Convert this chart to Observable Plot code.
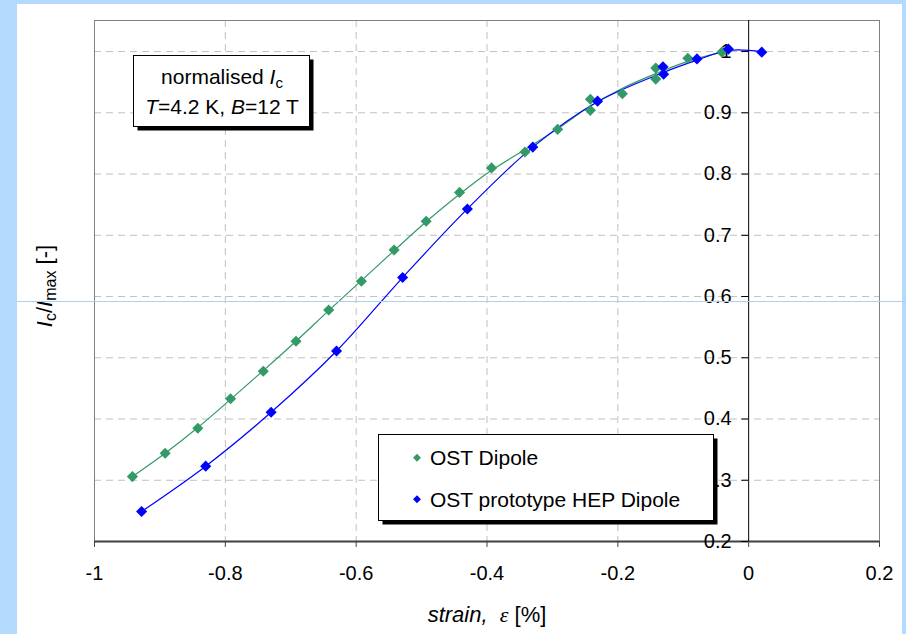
<!DOCTYPE html>
<html><head><meta charset="utf-8">
<script src="https://cdn.jsdelivr.net/npm/d3@7"></script>
<script src="https://cdn.jsdelivr.net/npm/@observablehq/plot@0.6"></script>
<style>
html,body{margin:0;padding:0;background:#b3d9fd;width:906px;height:634px;overflow:hidden}
#panel{position:absolute;left:17px;top:4px;width:885px;height:630px;background:#fff}
#chart{position:absolute;left:0;top:0}
#streak{position:absolute;left:17px;top:301px;width:889px;height:1px;background:#a9d0f5}
</style></head><body>
<div id="panel"></div><div id="chart"></div><div id="streak"></div>
<script>
// OST Dipole (measured points)
const greenX = [-0.942,-0.892,-0.842,-0.792,-0.742,-0.692,-0.642,-0.592,-0.542,-0.493,-0.442,-0.393,-0.342,-0.292,-0.242,-0.242,-0.193,-0.142,-0.142,-0.093,-0.041];
const greenY = [0.306,0.344,0.385,0.433,0.478,0.527,0.578,0.625,0.676,0.723,0.770,0.810,0.836,0.873,0.922,0.904,0.931,0.973,0.955,0.989,0.999];
// OST prototype HEP Dipole (measured points)
const blueX = [-0.928,-0.830,-0.730,-0.630,-0.529,-0.430,-0.330,-0.231,-0.131,-0.130,-0.079,-0.031,0.020];
const blueY = [0.249,0.323,0.411,0.511,0.631,0.743,0.844,0.919,0.975,0.963,0.988,1.004,0.999];
// smoothed trend lines
const greenFitX = [-0.942,-0.892,-0.842,-0.792,-0.742,-0.692,-0.642,-0.592,-0.542,-0.493,-0.442,-0.393,-0.342,-0.292,-0.242,-0.193,-0.142,-0.093,-0.041];
const greenFitY = [0.306,0.344,0.386,0.432,0.479,0.527,0.577,0.626,0.675,0.722,0.767,0.806,0.840,0.874,0.911,0.940,0.964,0.984,0.999];
const blueFitX = [-0.928,-0.830,-0.730,-0.630,-0.529,-0.430,-0.330,-0.231,-0.130,-0.079,-0.031,0.020];
const blueFitY = [0.249,0.323,0.411,0.511,0.631,0.743,0.844,0.918,0.966,0.986,1.002,1.000];

const xTicks = [-1,-0.8,-0.6,-0.4,-0.2,0,0.2];
const xTickLabels = ["-1","-0.8","-0.6","-0.4","-0.2","0","0.2"];
const xGrid = [-0.8,-0.6,-0.4,-0.2];
const yTicks = [0.2,0.3,0.4,0.5,0.6,0.7,0.8,0.9,1.0];
const yTickLabels = ["0.2","0.3","0.4","0.5","0.6","0.7","0.8","0.9","1"];
const yGrid = [0.3,0.4,0.5,0.6,0.7,0.8,0.9,1.0];
const seriesNames = ["OST Dipole","OST prototype HEP Dipole"];
const seriesColors = ["#339966","#0000ff"];

const zip = (xs, ys) => xs.map((x,i) => ({x, y: ys[i]}));
const green = zip(greenX, greenY), blue = zip(blueX, blueY);
const greenFit = zip(greenFitX, greenFitY), blueFit = zip(blueFitX, blueFitY);
const yTickData = yTicks.map((v,i) => ({v, label: yTickLabels[i]}));
const FONT = "Liberation Sans, Arial, sans-serif";

const chart = Plot.plot({
  width: 906, height: 634,
  marginLeft: 94, marginRight: 27, marginTop: 20, marginBottom: 93,
  style: {background: "transparent", fontFamily: FONT, color: "#000"},
  x: {domain: [-1, 0.2]},
  y: {domain: [0.2, 1.0507], axis: null},
  marks: [
    Plot.ruleX(xGrid, {stroke: "#c0c0c0", strokeDasharray: "7,5"}),
    Plot.ruleY(yGrid, {stroke: "#c0c0c0", strokeDasharray: "7,5"}),
    Plot.frame({stroke: "#808080"}),
    Plot.ruleY([0.2], {stroke: "#404040", strokeWidth: 2}),
    Plot.ruleX([0], {stroke: "#000", strokeWidth: 1}),
    Plot.ruleY(yTickData, {y: "v", x1: 0, x2: 0, insetLeft: -7, stroke: "#000"}),
    Plot.text(yTickData, {x: 0, y: "v", text: "label", dx: -17, textAnchor: "end", fontSize: 20, fill: "#000"}),
    Plot.axisX({ticks: xTicks, tickFormat: (d, i) => xTickLabels[i], tickSize: 6, tickPadding: 18, fontSize: 20, label: null, stroke: "#404040"}),
    Plot.line(greenFit, {x: "x", y: "y", stroke: seriesColors[0], strokeWidth: 1.2, curve: "catmull-rom"}),
    Plot.line(blueFit, {x: "x", y: "y", stroke: seriesColors[1], strokeWidth: 1.2, curve: "catmull-rom"}),
    Plot.dot(green, {x: "x", y: "y", symbol: "diamond2", r: 5, fill: seriesColors[0], stroke: null}),
    Plot.dot(blue, {x: "x", y: "y", symbol: "diamond2", r: 5, fill: seriesColors[1], stroke: null})
  ]
});
document.getElementById("chart").appendChild(chart);

const svg = d3.select(chart);
const deco = svg.append("g").attr("font-family", FONT).attr("fill", "#000");

// annotation box
const ann = deco.append("g");
ann.append("rect").attr("x", 137.5).attr("y", 59.5).attr("width", 176).attr("height", 71).attr("fill", "#000");
ann.append("rect").attr("x", 133.5).attr("y", 55.5).attr("width", 176).attr("height", 71).attr("fill", "#fff").attr("stroke", "#000");
const t1 = ann.append("text").attr("x", 222).attr("y", 84).attr("text-anchor", "middle").attr("font-size", 21);
t1.append("tspan").text("normalised ");
t1.append("tspan").attr("font-style", "italic").text("I");
t1.append("tspan").attr("font-size", 15).attr("dy", 4).text("c");
const t2 = ann.append("text").attr("x", 222).attr("y", 114).attr("text-anchor", "middle").attr("font-size", 21);
t2.append("tspan").attr("font-style", "italic").text("T");
t2.append("tspan").text("=4.2 K, ");
t2.append("tspan").attr("font-style", "italic").text("B");
t2.append("tspan").text("=12 T");

// legend
const leg = deco.append("g");
leg.append("rect").attr("x", 382.5).attr("y", 438.5).attr("width", 335).attr("height", 86).attr("fill", "#000");
leg.append("rect").attr("x", 378.5).attr("y", 434.5).attr("width", 335).attr("height", 86).attr("fill", "#fff").attr("stroke", "#000");
const legY = [457.7, 499.3];
seriesNames.forEach((name, i) => {
  leg.append("path").attr("d", d3.symbol(d3.symbolDiamond2, 40)()).attr("transform", `translate(417,${legY[i]})`).attr("fill", seriesColors[i]);
  leg.append("text").attr("x", 430).attr("y", legY[i] + 7.5).attr("text-anchor", "start").attr("font-size", 21).text(name);
});

// y label
const yl = deco.append("text").attr("transform", "translate(52,286) rotate(-90)").attr("text-anchor", "middle").attr("font-size", 22);
yl.append("tspan").attr("font-style", "italic").text("I");
yl.append("tspan").attr("font-size", 16).attr("dy", 4).text("c");
yl.append("tspan").attr("dy", -4).text("/");
yl.append("tspan").attr("font-style", "italic").text("I");
yl.append("tspan").attr("font-size", 16).attr("dy", 4).text("max");
yl.append("tspan").attr("dy", -4).text(" [-]");

// x label
const xl = deco.append("text").attr("x", 487).attr("y", 622).attr("text-anchor", "middle").attr("font-size", 22);
xl.append("tspan").attr("font-style", "italic").text("strain,");
xl.append("tspan").text("  ");
xl.append("tspan").attr("font-style", "italic").attr("font-family", "Liberation Serif, Times New Roman, serif").text("ε");
xl.append("tspan").text(" [%]");
</script></body></html>
